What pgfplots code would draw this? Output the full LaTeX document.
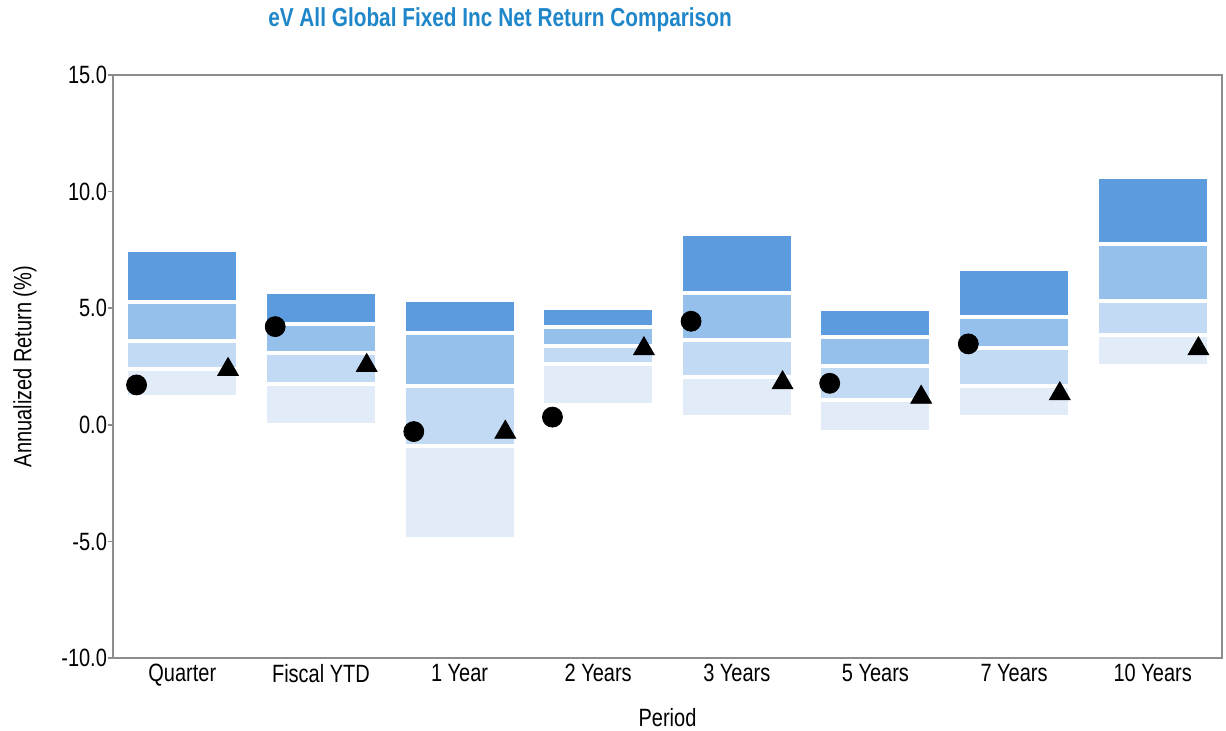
\documentclass[border=0pt]{standalone}
\usepackage{fontspec}
\setmainfont{Liberation Sans}[FakeStretch=0.8]
\usepackage{pgfplots}
\pgfplotsset{compat=1.18}
\usepackage{pgfplotstable}

\definecolor{cdark}{HTML}{5C9BDE}
\definecolor{cmed}{HTML}{96C0EC}
\definecolor{clight}{HTML}{C3DAF5}
\definecolor{clightest}{HTML}{E2ECF9}
\definecolor{titleblue}{HTML}{1F87C9}
\definecolor{axisgray}{HTML}{8C8C8C}

% top, three inner boundaries, bottom of each floating bar
\pgfplotstableread{
x top b1 b2 b3 bot
0 7.40 5.27 3.58 2.41 1.26
1 5.59 4.33 3.10 1.76 0.07
2 5.26 3.94 1.66 -0.93 -4.82
3 4.93 4.21 3.40 2.61 0.93
4 8.11 5.66 3.64 2.04 0.40
5 4.90 3.77 2.51 1.08 -0.24
6 6.61 4.61 3.28 1.66 0.40
7 10.54 7.76 5.33 3.83 2.61
}\bands

\pgfplotstableread{
x y
-0.33 1.71
0.67 4.21
1.67 -0.29
2.67 0.33
3.67 4.44
4.67 1.78
5.67 3.47
}\circles

\pgfplotstableread{
x y
0.33 2.37
1.33 2.54
2.33 -0.32
3.33 3.26
4.33 1.80
5.33 1.18
6.33 1.33
7.33 3.26
}\triangles

\pgfplotsset{
  common/.style={
    scale only axis, width=554.5pt, height=291.5pt,
    xmin=-0.5, xmax=7.5, ymin=-10, ymax=15,
    at={(0,0)}, anchor=south west,
  },
  band/.style={mark=none, draw=none,
    error bars/.cd, y dir=plus, y explicit, error mark=none,
    error bar style={draw=#1, line width=54pt, line cap=butt}},
  sep/.style={only marks, mark=-, mark size=27pt,
    mark options={draw=white, line width=2pt}},
}

\begin{document}
\begin{tikzpicture}
\useasboundingbox (-56.5pt,-36pt) rectangle (556.5pt,329pt);
\begin{axis}[common,
  axis line style={draw=axisgray, line width=0.75pt},
  xtick={0,...,7},
  xticklabels={Quarter, Fiscal YTD, 1 Year, 2 Years, 3 Years, 5 Years, 7 Years, 10 Years},
  x tick style={draw=none},
  ytick={-10,-5,0,5,10,15},
  y tick style={draw=axisgray, line width=0.75pt},
  tick align=outside, tick pos=left, major tick length=2.5pt,
  ticklabel style={font=\fontsize{12.5}{14}\selectfont},
  yticklabel style={xshift=3pt, /pgf/number format/.cd, fixed, fixed zerofill, precision=1},
  /pgf/number format/assume math mode=true,
  xticklabel style={yshift=3pt},
  xlabel={Period},
  ylabel={Annualized Return (\%)},
  xlabel style={at={(axis description cs:0.5,-0.103)}, anchor=center, font=\fontsize{12.5}{14}\selectfont},
  ylabel style={at={(axis description cs:-0.0794,0.5)}, anchor=center, font=\fontsize{12.5}{14}\selectfont},
]
\addplot[band=clightest] table[x=x, y=bot, y error expr=\thisrow{b3}-\thisrow{bot}] {\bands};
\addplot[band=clight] table[x=x, y=b3, y error expr=\thisrow{b2}-\thisrow{b3}] {\bands};
\addplot[band=cmed] table[x=x, y=b2, y error expr=\thisrow{b1}-\thisrow{b2}] {\bands};
\addplot[band=cdark] table[x=x, y=b1, y error expr=\thisrow{top}-\thisrow{b1}] {\bands};
\addplot[sep] table[x=x, y=b1] {\bands};
\addplot[sep] table[x=x, y=b2] {\bands};
\addplot[sep] table[x=x, y=b3] {\bands};
\end{axis}
\begin{axis}[common, hide axis, clip=false]
\addplot[only marks, mark=*, mark size=5pt, black] table[x=x, y=y] {\circles};
\addplot[only marks, mark=triangle*, mark size=6pt, black] table[x=x, y=y] {\triangles};
\end{axis}
\node[font=\bfseries\fontsize{13}{16}\selectfont, text=titleblue] at (193.5pt,319pt) {eV All Global Fixed Inc Net Return Comparison};
\end{tikzpicture}
\end{document}
